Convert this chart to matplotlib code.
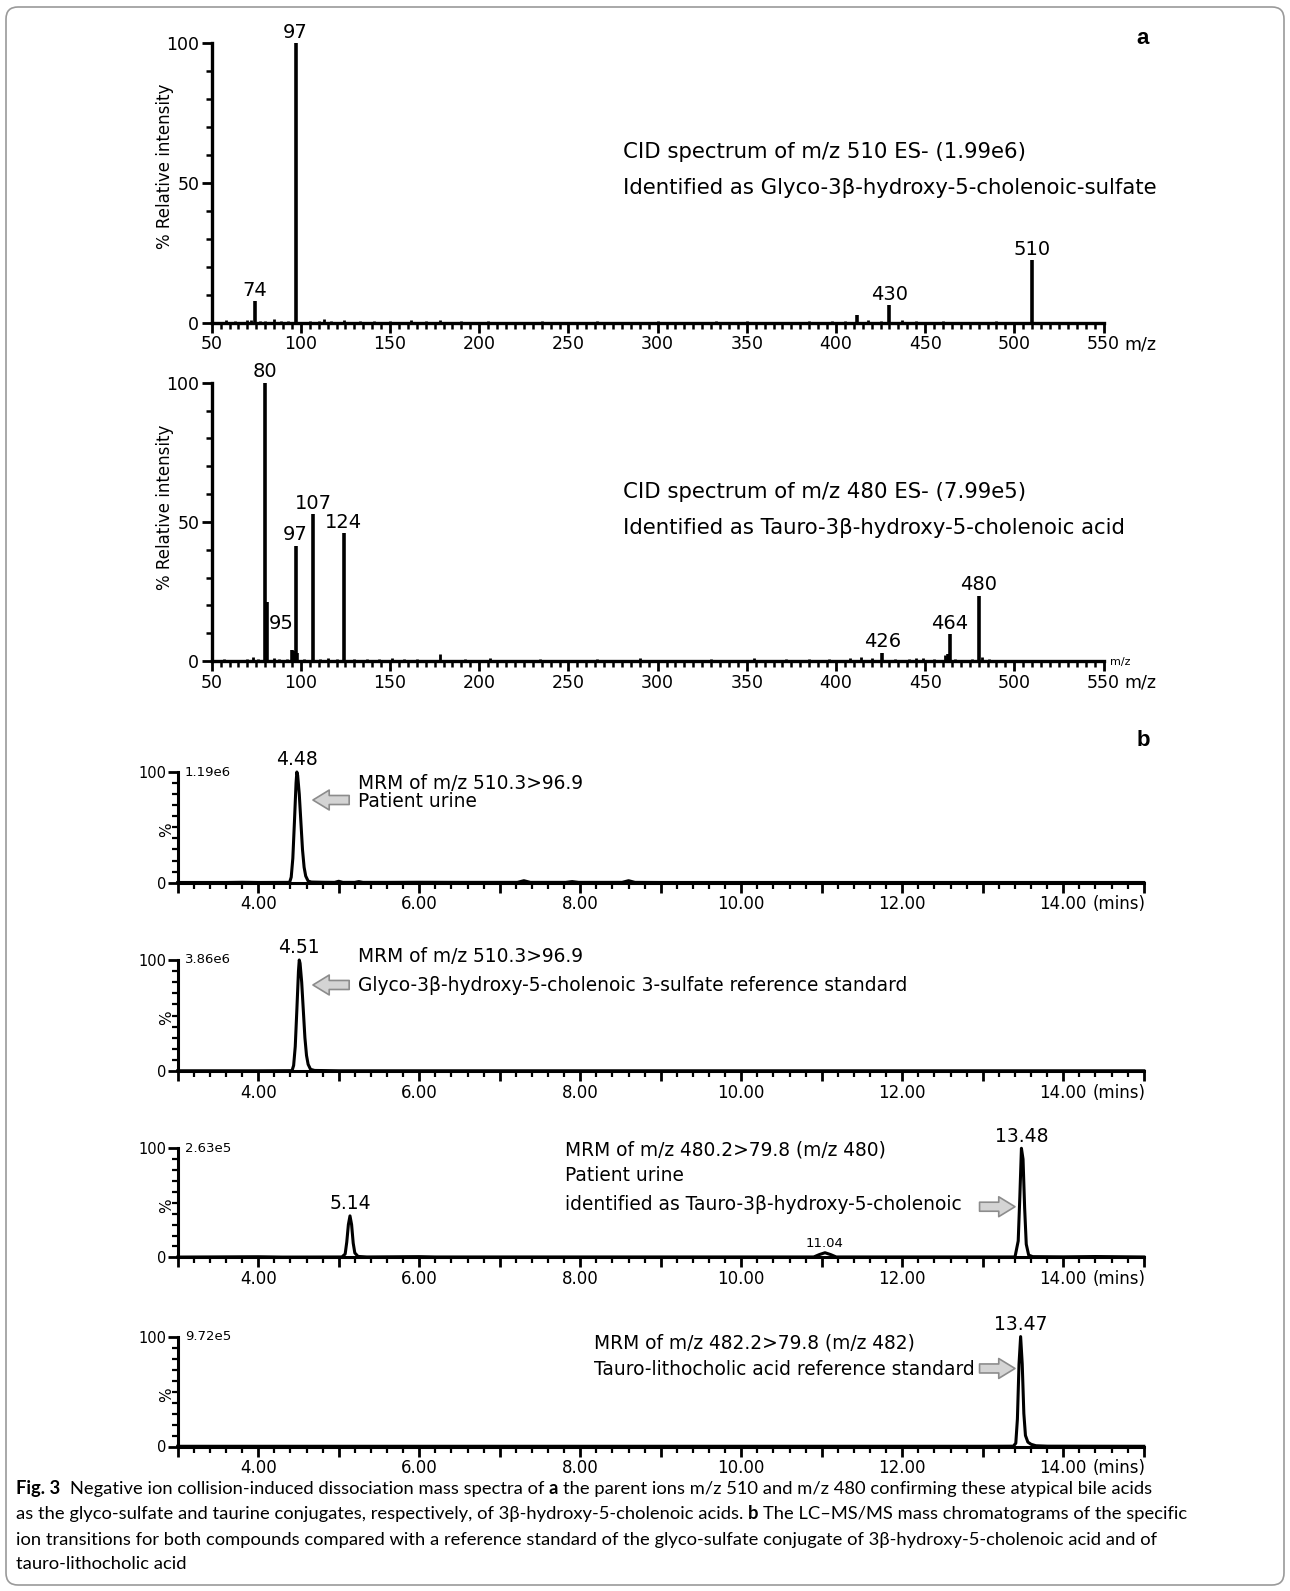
import numpy as np
import matplotlib
matplotlib.use("Agg")
import matplotlib.pyplot as plt
from matplotlib.patches import FancyBboxPatch
from matplotlib.transforms import IdentityTransform
from matplotlib.ticker import MultipleLocator, FixedLocator

W, H, DPI = 1290, 1591, 100

# ---------------- panel a : CID spectra ----------------
mz_510 = [74, 97, 412, 430, 510]
int_510 = [7.8, 100, 2.8, 6.3, 22.4]
noise_mz_510 = [58, 63, 70, 72, 77, 80, 85, 89, 93, 105, 110, 113, 117, 124, 133, 141,
                150, 162, 170, 178, 190, 205, 220, 235, 250, 266, 283, 300, 318, 333,
                350, 367, 385, 398, 405, 418, 425, 437, 445, 460, 475, 490, 500, 515, 530]
noise_int_510 = [1.0, 0.5, 0.8, 1.0, 0.6, 0.7, 1.5, 0.6, 0.5, 0.6, 0.5, 1.5, 0.6, 0.8, 0.5, 0.5,
                 0.5, 0.9, 0.5, 0.8, 0.5, 0.5, 0.4, 0.5, 0.4, 0.5, 0.4, 0.5, 0.4, 0.5,
                 0.5, 0.4, 0.6, 0.5, 0.6, 0.8, 0.7, 0.9, 0.6, 0.5, 0.4, 0.5, 0.4, 0.4, 0.4]
labels_510 = [74, 97, 430, 510]

mz_480 = [80, 81, 95, 96, 97, 98, 107, 124, 426, 463, 464, 480]
int_480 = [100, 21.1, 4.0, 3.5, 41.4, 2.9, 52.7, 45.9, 3.0, 2.4, 9.6, 23.5]
noise_mz_480 = [57, 64, 70, 73, 76, 85, 88, 92, 102, 111, 115, 120, 130, 137, 144, 151, 158,
                165, 178, 192, 206, 220, 234, 250, 266, 290, 310, 330, 354, 372, 385, 396,
                408, 414, 420, 433, 441, 445, 449, 455, 461, 467, 476, 482, 486, 500, 520, 540]
noise_int_480 = [0.8, 0.5, 0.8, 1.5, 0.6, 1.0, 0.8, 0.6, 0.6, 0.7, 1.2, 0.6, 0.7, 0.6, 0.8, 1.0, 0.6,
                 0.8, 2.5, 0.6, 1.0, 0.5, 0.8, 0.5, 0.6, 1.0, 0.5, 0.6, 1.2, 0.8, 0.6, 0.8,
                 1.0, 1.5, 1.2, 0.8, 0.7, 1.2, 1.0, 0.6, 2.0, 0.8, 0.6, 1.5, 0.8, 0.5, 0.4, 0.4]
labels_480 = [80, 95, 97, 107, 124, 426, 464, 480]

spectra_text = [
    ["CID spectrum of m/z 510 ES- (1.99e6)",
     "Identified as Glyco-3β-hydroxy-5-cholenoic-sulfate"],
    ["CID spectrum of m/z 480 ES- (7.99e5)",
     "Identified as Tauro-3β-hydroxy-5-cholenoic acid"],
]

# ---------------- panel b : MRM chromatograms ----------------
t_1 = [3.0, 3.6, 3.8, 4.0, 4.39, 4.41, 4.43, 4.45, 4.47, 4.48, 4.49, 4.51, 4.53, 4.55, 4.57,
       4.59, 4.62, 4.66, 4.80, 4.95, 5.0, 5.05, 5.20, 5.25, 5.30, 5.6, 6.0, 6.5, 7.0, 7.22,
       7.30, 7.38, 7.6, 7.82, 7.9, 7.98, 8.3, 8.52, 8.60, 8.68, 9.0, 10.0, 11.0, 12.0, 13.0,
       14.0, 15.0]
i_1 = [0.2, 0.2, 0.4, 0.2, 0.3, 5, 22, 55, 90, 100, 97, 80, 55, 30, 14,
       6, 1.5, 0.6, 0.4, 0.3, 1.3, 0.3, 0.3, 1.0, 0.3, 0.3, 0.4, 0.3, 0.3, 0.3,
       1.8, 0.3, 0.3, 0.3, 1.0, 0.3, 0.3, 0.3, 1.8, 0.3, 0.2, 0.2, 0.2, 0.2, 0.2,
       0.2, 0.2]

t_2 = [3.0, 4.0, 4.42, 4.44, 4.46, 4.48, 4.50, 4.51, 4.52, 4.54, 4.56, 4.58, 4.60, 4.62,
       4.65, 4.70, 5.0, 15.0]
i_2 = [0.2, 0.2, 0.3, 5, 22, 55, 90, 100, 97, 80, 55, 30, 14, 6,
       1.5, 0.5, 0.2, 0.2]

t_3 = [3.0, 4.0, 4.3, 5.04, 5.08, 5.10, 5.12, 5.14, 5.16, 5.18, 5.20, 5.24, 5.35, 6.0, 6.2,
       8.0, 10.9, 10.97, 11.04, 11.11, 11.18, 12.0, 13.40, 13.44, 13.46, 13.48, 13.50, 13.52,
       13.54, 13.57, 13.62, 14.0, 14.4, 15.0]
i_3 = [0.2, 0.5, 0.2, 0.3, 3, 14, 30, 38, 30, 13, 4, 0.8, 0.3, 0.6, 0.3,
       0.3, 0.3, 2.5, 4.2, 2.5, 0.3, 0.3, 0.3, 15, 55, 100, 90, 45,
       12, 2, 0.6, 0.4, 0.7, 0.3]

t_4 = [3.0, 13.0, 13.38, 13.41, 13.43, 13.45, 13.47, 13.49, 13.51, 13.53, 13.56, 13.60,
       13.66, 13.8, 15.0]
i_4 = [0.2, 0.2, 0.3, 3, 25, 75, 100, 75, 30, 10, 4, 2, 0.7, 0.3, 0.2]

chrom_scale = ["1.19e6", "3.86e6", "2.63e5", "9.72e5"]
chrom_peaks = [[(4.48, 100, "4.48")], [(4.51, 100, "4.51")],
               [(5.14, 38, "5.14"), (13.48, 100, "13.48")], [(13.47, 100, "13.47")]]
chrom_small = [[], [], [(11.04, 4.2, "11.04")], []]
chrom_text = [
    ["MRM of m/z 510.3>96.9", "Patient urine"],
    ["MRM of m/z 510.3>96.9", "Glyco-3β-hydroxy-5-cholenoic 3-sulfate reference standard"],
    ["MRM of m/z 480.2>79.8 (m/z 480)", "Patient urine",
     "identified as Tauro-3β-hydroxy-5-cholenoic"],
    ["MRM of m/z 482.2>79.8 (m/z 482)", "Tauro-lithocholic acid reference standard"],
]
chrom_ticks = [4, 6, 8, 10, 12, 14]


def px_box(left, top, right, bottom):
    return [left / W, 1 - bottom / H, (right - left) / W, (bottom - top) / H]


fig = plt.figure(figsize=(W / DPI, H / DPI), dpi=DPI)

# ---- spectra ----
spec_boxes = [px_box(211.7, 43.3, 1103.5, 322.7), px_box(211.7, 382.7, 1103.5, 661.0)]
spec_sets = [(mz_510, int_510, noise_mz_510, noise_int_510, labels_510),
             (mz_480, int_480, noise_mz_480, noise_int_480, labels_480)]
text_y = [(152, 188), (492, 528)]
ylabel_y = [166, 507]

for k, (box, (mz, inten, nmz, nint, labs)) in enumerate(zip(spec_boxes, spec_sets)):
    ax = fig.add_axes(box)
    ax.vlines(nmz, 0, nint, color="black", lw=2.0, clip_on=False)
    ax.vlines(mz, 0, inten, color="black", lw=2.6, clip_on=False)
    ax.set_xlim(50, 550)
    ax.set_ylim(0, 100)
    for s in ["top", "right"]:
        ax.spines[s].set_visible(False)
    for s in ["left", "bottom"]:
        ax.spines[s].set_linewidth(2.4)
    ax.xaxis.set_major_locator(MultipleLocator(50))
    ax.xaxis.set_minor_locator(MultipleLocator(5))
    ax.yaxis.set_major_locator(FixedLocator([0, 50, 100]))
    ax.yaxis.set_minor_locator(MultipleLocator(10))
    ax.tick_params(which="major", length=7, width=2, labelsize=12.5, pad=2)
    ax.tick_params(which="minor", length=4, width=1.8)
    ax.annotate("m/z", xy=(550, 0), xycoords=("data", "axes fraction"),
                xytext=(15, -9), textcoords="offset points", ha="left", va="top",
                fontsize=12.5)
    for m in labs:
        y = dict(zip(mz, inten))[m]
        if k == 1 and m == 95:
            ax.annotate(str(m), xy=(89, 10.0), ha="center", va="bottom", fontsize=14)
            continue
        ax.annotate(str(m), xy=(m, y), xytext=(0, 1), textcoords="offset points",
                    ha="center", va="bottom", fontsize=14)
    for line, yy in zip(spectra_text[k], text_y[k]):
        fig.text(623 / W, 1 - yy / H, line, fontsize=15.3, ha="left", va="center")
    fig.text(165 / W, 1 - ylabel_y[k] / H, "% Relative intensity",
             rotation=90, ha="center", va="center", fontsize=12)
    if k == 1:
        ax.text(1110 / W, 1 - 662 / H, "m/z", transform=fig.transFigure,
                fontsize=8, ha="left", va="center")

fig.text(1143 / W, 1 - 38 / H, "a", fontsize=16, fontweight="bold",
         family="Liberation Sans", ha="center", va="center")
fig.text(1143 / W, 1 - 741 / H, "b", fontsize=16, fontweight="bold",
         family="Liberation Sans", ha="center", va="center")

# ---- chromatograms ----
chrom_boxes = [px_box(177.7, 772.0, 1143.8, 882.7), px_box(177.7, 960.0, 1143.8, 1071.0),
               px_box(177.7, 1148.3, 1143.8, 1257.3), px_box(177.7, 1336.6, 1143.8, 1446.5)]
traces = [(t_1, i_1), (t_2, i_2), (t_3, i_3), (t_4, i_4)]
text_pos = [(5.24, [90, 73]), (5.24, [103, 77]), (7.81, [98, 75.5, 48]), (8.17, [94, 70.5])]
arrows = [((4.68, 74.7), (5.13, 74.7)), ((4.68, 77.5), (5.13, 77.5)),
          ((13.40, 46.4), (12.96, 46.4)), ((13.40, 71.0), (12.96, 71.0))]

for k, box in enumerate(chrom_boxes):
    ax = fig.add_axes(box)
    t, i = traces[k]
    ax.plot(t, i, color="black", lw=2.2, clip_on=False, solid_joinstyle="round")
    ax.set_xlim(3, 15)
    ax.set_ylim(0, 100)
    for s in ["top", "right"]:
        ax.spines[s].set_visible(False)
    for s in ["left", "bottom"]:
        ax.spines[s].set_linewidth(2.2)
    ax.xaxis.set_minor_locator(MultipleLocator(0.2))
    ax.set_xticks(np.arange(3, 16, 1))
    ax.set_xticklabels(["%.2f" % v if v in chrom_ticks else "" for v in np.arange(3, 16, 1)])
    ax.set_yticks([0, 100])
    ax.set_yticklabels(["0", "100"])
    ax.yaxis.set_minor_locator(MultipleLocator(10))
    ax.tick_params(which="major", length=7, width=2, labelsize=12, pad=2)
    ax.tick_params(which="minor", length=4, width=1.6)
    ax.tick_params(axis="y", labelsize=10.5, pad=1)
    ax.annotate("(mins)", xy=(14, 0), xycoords=("data", "axes fraction"),
                xytext=(21, -9), textcoords="offset points", ha="left", va="top",
                fontsize=12)
    ax.annotate(chrom_scale[k], xy=(0, 1), xycoords="axes fraction", xytext=(5, 0),
                textcoords="offset points", ha="left", va="center", fontsize=9.5)
    ax.text(-0.011, 0.476, "%", transform=ax.transAxes, rotation=90,
            ha="center", va="center", fontsize=11)
    for (pt, ph, lab) in chrom_peaks[k]:
        ax.annotate(lab, xy=(pt, ph), xytext=(0, 2), textcoords="offset points",
                    ha="center", va="bottom", fontsize=13.5)
    for (pt, ph, lab) in chrom_small[k]:
        ax.annotate(lab, xy=(pt, ph), xytext=(0, 2), textcoords="offset points",
                    ha="center", va="bottom", fontsize=9.5)
    x0, ys = text_pos[k]
    for line, yy in zip(chrom_text[k], ys):
        ax.text(x0, yy, line, ha="left", va="center", fontsize=13.4, clip_on=False)
    tip, tail = arrows[k]
    ax.annotate("", xy=tip, xytext=tail,
                arrowprops=dict(arrowstyle="simple,head_length=0.9,head_width=1.1,tail_width=0.5",
                                fc="#d4d4d4", ec="#8c8c8c", lw=1.2, mutation_scale=13,
                                shrinkA=0, shrinkB=0))

# ---- caption ----
cap_lines = [
    [("Fig. 3", True), ("Negative ion collision-induced dissociation mass spectra of", False),
     ("a", True), ("the parent ions m/z 510 and m/z 480 confirming these atypical bile acids", False)],
    [("as the glyco-sulfate and taurine conjugates, respectively, of 3β-hydroxy-5-cholenoic acids.", False),
     ("b", True), ("The LC–MS/MS mass chromatograms of the specific", False)],
    [("ion transitions for both compounds compared with a reference standard of the glyco-sulfate "
      "conjugate of 3β-hydroxy-5-cholenoic acid and of", False)],
    [("tauro-lithocholic acid", False)],
]
cap_y = [1494, 1519, 1545, 1569]
cap_family = ["Lato", "DejaVu Sans"]
cap_size = 13.2

renderer = fig.canvas.get_renderer()


def text_width(s, bold):
    t = fig.text(0, 0, s, fontsize=cap_size, family=cap_family,
                 fontweight="bold" if bold else "normal")
    w = t.get_window_extent(renderer=renderer).width
    t.remove()
    return w


space = text_width("x x", False) - text_width("xx", False)
for parts, yy in zip(cap_lines, cap_y):
    x = 16.0
    for n, (s, bold) in enumerate(parts):
        fig.text(x / W, 1 - yy / H, s, fontsize=cap_size, family=cap_family,
                 fontweight="bold" if bold else "normal", ha="left", va="baseline")
        x += text_width(s, bold) + space * (2 if (n == 0 and s == "Fig. 3") else 1)

border = FancyBboxPatch((6, 6), 1278, 1578, boxstyle="round,pad=0,rounding_size=12",
                        transform=IdentityTransform(), fill=False, ec="#9a9a9a", lw=1.2)
fig.add_artist(border)

fig.savefig("out.png", dpi=DPI)
